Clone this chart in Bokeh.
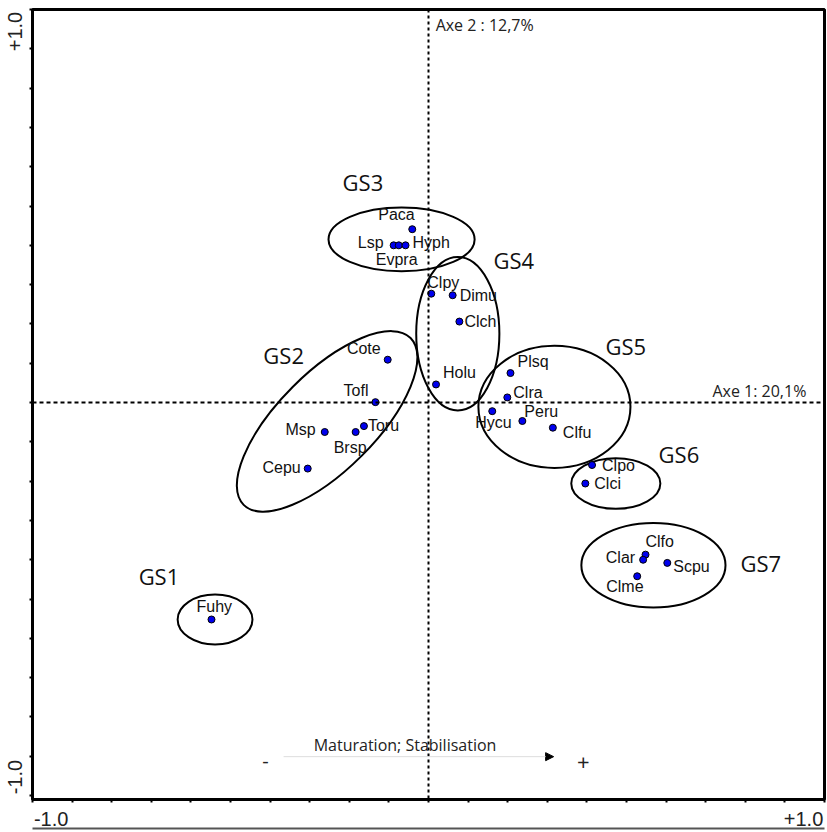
import math
from bokeh.plotting import figure
from bokeh.models import (ColumnDataSource, Span, Label, Arrow, NormalHead,
                          FixedTicker, CustomJSTickFormatter, Range1d, LinearAxis)
from bokeh.core.properties import value
from bokeh.embed import file_html
from bokeh.resources import INLINE

# ---------------- data ----------------
species = ["Paca", "Lsp", "Evpra", "Hyph",
           "Clpy", "Dimu", "Clch", "Holu",
           "Plsq", "Clra", "Hycu", "Peru", "Clfu",
           "Cote", "Tofl", "Toru", "Brsp", "Msp", "Cepu",
           "Fuhy",
           "Clpo", "Clci",
           "Clfo", "Clar", "Scpu", "Clme"]
axis1 = [-0.041, -0.088, -0.075, -0.058,
         0.007, 0.061, 0.078, 0.019,
         0.207, 0.199, 0.161, 0.237, 0.314,
         -0.103, -0.134, -0.163, -0.184, -0.262, -0.305,
         -0.548,
         0.413, 0.396,
         0.548, 0.542, 0.603, 0.527]
axis2 = [0.441, 0.400, 0.400, 0.400,
         0.277, 0.273, 0.206, 0.046,
         0.075, 0.013, -0.022, -0.047, -0.064,
         0.109, 0.001, -0.060, -0.075, -0.075, -0.168,
         -0.552,
         -0.159, -0.206,
         -0.387, -0.400, -0.408, -0.442]

groups = ["GS1", "GS2", "GS3", "GS4", "GS5", "GS6", "GS7"]
group_cx = [-0.539, -0.256, -0.068, 0.074, 0.318, 0.473, 0.568]
group_cy = [-0.552, -0.048, 0.415, 0.175, -0.011, -0.206, -0.414]
group_w = [0.189, 0.596, 0.369, 0.210, 0.384, 0.225, 0.364]
group_h = [0.127, 0.248, 0.162, 0.390, 0.311, 0.129, 0.215]
group_angle_deg = [0, 45, 0, 0, 0, 0, 0]

axis1_title = "Axe 1: 20,1%"
axis2_title = "Axe 2 : 12,7%"
gradient_title = "Maturation; Stabilisation"
tick_values = [round(-1 + 0.1 * i, 1) for i in range(21)]
end_labels = ["-1.0", "+1.0"]

# ---------------- layout (label placement, pixels) ----------------
lab_dx = [-34, -10, -23, 7,
          -4, 7, 5, 7,
          7, 6, -17, 2, 10,
          -7, -7, 4, -22, -9, -7,
          -15,
          10, 9,
          0, -8, 6, -31]
lab_dy = [-15, -3, 14, -3,
          -11, 0, 0, -12,
          -12, -5, 11, -10, 5,
          -11, -12, -1, 15, -3, -1,
          -13,
          0, 0,
          -13, -2, 4, 10]
lab_align = ["left", "right", "left", "left",
             "left", "left", "left", "left",
             "left", "left", "left", "left", "left",
             "right", "right", "left", "left", "right", "right",
             "left",
             "left", "left",
             "left", "right", "left", "left"]
group_lx = [-0.732, -0.417, -0.217, 0.164, 0.447, 0.581, 0.788]
group_ly = [-0.441, 0.122, 0.562, 0.362, 0.144, -0.132, -0.408]

p = figure(width=826, height=830, output_backend="svg", toolbar_location=None,
           x_range=Range1d(-1.0, 1.0), y_range=Range1d(-1.01, 1.0),
           min_border_left=32, min_border_right=2, min_border_top=9,
           min_border_bottom=31)
p.grid.visible = False
p.outline_line_color = "black"
p.outline_line_width = 3
p.background_fill_color = "white"
p.border_fill_color = "white"

for ax in (p.xaxis[0], p.yaxis[0]):
    ax.ticker = FixedTicker(ticks=tick_values, minor_ticks=[])
    ax.formatter = CustomJSTickFormatter(code="return ''")
    ax.major_tick_in = 0
    ax.major_tick_out = 3
    ax.major_tick_line_width = 2
    ax.axis_line_width = 2
    ax.major_label_text_font_size = "1px"
    ax.major_label_standoff = 0

# end labels of the axes (offset inward like the reference)
end_fmt = CustomJSTickFormatter(code="return tick > 0 ? '%s' : '%s'" % (end_labels[1], end_labels[0]))
xend = LinearAxis(ticker=FixedTicker(ticks=[-0.953, 0.947], minor_ticks=[]),
                  formatter=end_fmt, axis_line_color=None,
                  major_tick_line_color=None, minor_tick_line_color=None,
                  major_label_standoff=3, major_label_text_font_size="20px",
                  major_label_text_font="Liberation Sans",
                  major_label_text_color="#222222")
p.add_layout(xend, "below")
# thin rule at the very bottom of the picture
xrule = LinearAxis(ticker=FixedTicker(ticks=[], minor_ticks=[]),
                   formatter=CustomJSTickFormatter(code="return ''"),
                   axis_line_color="#555555", axis_line_width=2,
                   major_tick_line_color=None, minor_tick_line_color=None,
                   major_label_standoff=0, major_label_text_font_size="1px")
p.add_layout(xrule, "below")
yend = LinearAxis(ticker=FixedTicker(ticks=[-0.953, 0.944], minor_ticks=[]),
                  formatter=end_fmt, axis_line_color=None,
                  major_tick_line_color=None, minor_tick_line_color=None,
                  major_label_standoff=1, major_label_text_font_size="20px",
                  major_label_orientation="vertical",
                  major_label_text_font="Liberation Sans",
                  major_label_text_color="#222222")
p.add_layout(yend, "left")

# dashed axes through origin
p.add_layout(Span(location=0, dimension="height", line_color="black",
                  line_dash="3 3", line_width=2))
p.add_layout(Span(location=0, dimension="width", line_color="black",
                  line_dash="4 3", line_width=2))

# ellipses
esrc = ColumnDataSource(dict(x=group_cx, y=group_cy, w=group_w, h=group_h,
                             a=[math.radians(v) for v in group_angle_deg]))
p.ellipse(x="x", y="y", width="w", height="h", angle="a", source=esrc,
          fill_color=None, line_color="black", line_width=2)

# points
src = ColumnDataSource(dict(x=axis1, y=axis2, name=species,
                            dx=lab_dx, dy=lab_dy, al=lab_align))
p.scatter(x="x", y="y", source=src, size=7, fill_color="#0000ee",
          line_color="black", line_width=1)
p.text(x="x", y="y", text="name", source=src, x_offset="dx", y_offset="dy",
       text_align="al", text_baseline="middle",
       text_font=value("Liberation Sans"), text_font_size="16px",
       text_color="#111111")

# group labels
gsrc = ColumnDataSource(dict(x=group_lx, y=group_ly, t=groups))
p.text(x="x", y="y", text="t", source=gsrc, text_align="left",
       text_baseline="middle", text_font=value("Open Sans"),
       text_font_size="22px", text_color="#111111")

# axis titles
p.add_layout(Label(x=0.018, y=0.961, text=axis2_title, text_baseline="middle",
                   text_font="Open Sans", text_font_size="16px",
                   text_color="#222222"))
p.add_layout(Label(x=0.717, y=0.030, text=axis1_title, text_baseline="middle",
                   text_font="Open Sans", text_font_size="16px",
                   text_color="#222222"))

# gradient arrow
p.add_layout(Label(x=-0.290, y=-0.871, text=gradient_title, text_baseline="middle",
                   text_font="Open Sans", text_font_size="16px",
                   text_color="#222222"))
p.add_layout(Arrow(x_start=-0.366, y_start=-0.901, x_end=0.316, y_end=-0.901,
                   line_color="#dddddd", line_width=1,
                   end=NormalHead(size=8, fill_color="black", line_color="black")))
p.add_layout(Label(x=-0.412, y=-0.911, text="-", text_align="center",
                   text_baseline="middle", text_font="Open Sans",
                   text_font_size="20px", text_color="#222222"))
p.add_layout(Label(x=0.391, y=-0.914, text="+", text_align="center",
                   text_baseline="middle", text_font="Open Sans",
                   text_font_size="22px", text_color="#222222"))

open("out.html", "w").write(file_html(p, INLINE))
